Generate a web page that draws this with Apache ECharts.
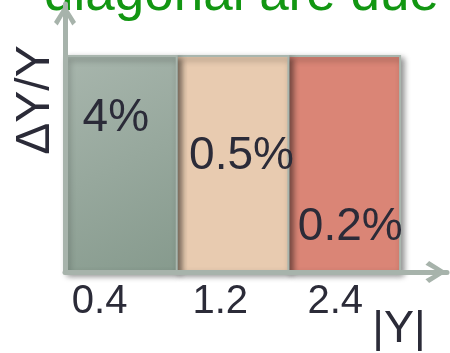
<!DOCTYPE html>
<html>
<head>
<meta charset="utf-8">
<script src="https://cdn.jsdelivr.net/npm/echarts@6/dist/echarts.min.js"></script>
<style>
  html, body { margin: 0; padding: 0; background: #ffffff; }
  #chart { width: 450px; height: 353px; }
</style>
</head>
<body>
<div id="chart"></div>
<script>
// |Y| bins and the relative uncertainty ΔY/Y quoted for each bin
const binLabels = ['0.4', '1.2', '2.4'];
const uncertainties = ['4%', '0.5%', '0.2%'];
const binHeights = [1, 1, 1];

// layout: where the text sits inside each bar (px from bar centre) and where the tick labels go
const labelShift = [[-5, -46], [9, -8], [6, 63]];
const tickPos = [0.31, 1.39, 2.42];

const FONT = '"Liberation Sans", Arial, sans-serif';
const INK = '#2b2b38';
const AXIS = '#a7b3ab';
const fills = [
  { type: 'linear', x: 0, y: 0, x2: 1, y2: 1,
    colorStops: [{ offset: 0, color: '#a8b6ad' }, { offset: 1, color: '#869a8d' }] },
  '#e8cbb0',
  '#da8576'
];
// open arrow head drawn at the end of each axis
const chevron = 'path://M12,0 L24,19 L20,23 L12,9 L4,23 L0,19 Z';
const arrowLine = {
  show: true,
  lineStyle: { color: AXIS, width: 5 },
  symbol: ['none', chevron],
  symbolSize: [22, 22],
  symbolOffset: [0, -11]
};

const chart = echarts.init(document.getElementById('chart'), null, { renderer: 'canvas' });

chart.setOption({
  animation: false,
  grid: { left: 65, right: 3, top: 4, bottom: 81, containLabel: false },
  xAxis: {
    type: 'value', min: 0, max: 3.42, z: 5,
    splitLine: { show: false },
    axisTick: { show: false },
    axisLine: arrowLine,
    axisLabel: {
      customValues: tickPos,
      formatter: v => binLabels[tickPos.indexOf(v)],
      fontSize: 40, fontFamily: FONT, color: INK, margin: 10
    }
  },
  yAxis: {
    type: 'value', min: 0, max: 1.2407, z: 5,
    splitLine: { show: false },
    axisTick: { show: false },
    axisLabel: { show: false },
    axisLine: arrowLine
  },
  graphic: [
    { type: 'text', x: 44, y: -5, silent: true,
      style: { text: 'diagonal are due', font: '53px ' + FONT, fill: '#129612',
               align: 'left', verticalAlign: 'middle' } },
    { type: 'text', x: 36, y: 100, rotation: Math.PI / 2, silent: true,
      style: { text: 'ΔY/Y', font: '48px ' + FONT, fill: INK,
               align: 'center', verticalAlign: 'middle' } },
    { type: 'text', x: 399, y: 330, silent: true,
      style: { text: '|Y|', font: '45px ' + FONT, fill: INK,
               align: 'center', verticalAlign: 'middle' } }
  ],
  series: [{
    type: 'custom',
    z: 2,
    clip: false,
    data: binHeights.map((h, i) => [i, i + 1, h]),
    renderItem(params, api) {
      const i = params.dataIndex;
      const p0 = api.coord([api.value(0), 0]);
      const p1 = api.coord([api.value(1), api.value(2)]);
      const x = p0[0], y = p1[1];
      const w = p1[0] - p0[0], h = p0[1] - p1[1];
      return {
        type: 'group',
        children: [
          {
            type: 'rect', z2: 10 - i,
            shape: { x: x, y: y, width: w, height: h },
            style: {
              fill: fills[i], stroke: '#a9b6ae', lineWidth: 2,
              shadowBlur: 6, shadowOffsetX: 3, shadowOffsetY: 3,
              shadowColor: 'rgba(0,0,0,0.45)'
            }
          },
          {
            type: 'text', z2: 50,
            style: {
              text: uncertainties[i],
              x: x + w / 2 + labelShift[i][0],
              y: y + h / 2 + labelShift[i][1],
              align: 'center', verticalAlign: 'middle',
              font: '46px ' + FONT, fill: INK
            }
          }
        ]
      };
    }
  }]
});
</script>
</body>
</html>
